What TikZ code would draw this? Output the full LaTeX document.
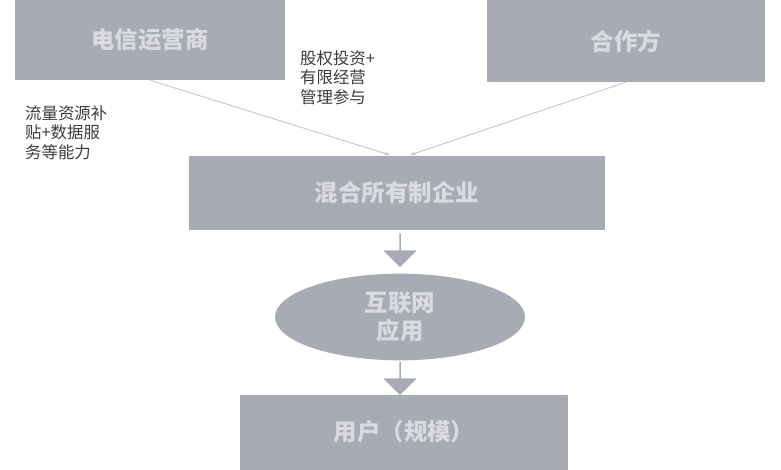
\documentclass[tikz,border=0pt]{standalone}
\usepackage{fontspec}
\setmainfont{Noto Sans CJK SC}
\usetikzlibrary{shapes.arrows,shapes.geometric,arrows.meta}
\definecolor{boxgray}{RGB}{168,170,180}
\definecolor{boxtext}{RGB}{218,219,224}
\definecolor{notetext}{RGB}{60,60,60}
\definecolor{linegray}{RGB}{200,200,205}

\tikzset{
  partbox/.style={rectangle, fill=boxgray, text=boxtext, font=\bfseries\fontsize{20}{22}\selectfont, inner sep=0pt},
  note/.style={text=notetext, font=\fontsize{14}{17}\selectfont, align=left, inner sep=0pt},
  downarrow/.style={single arrow, fill=boxgray, rotate=-90, minimum height=1.0cm, minimum width=1.0cm, single arrow head extend=0.15cm, inner sep=0pt},
  link/.style={linegray, line width=0.8pt, -{Stealth[length=5pt]}}
}

\begin{document}
\begin{tikzpicture}[x=0.03cm, y=-0.03cm]
\useasboundingbox (0,0) rectangle (781,469);

% boxes
\node[partbox, minimum width=8.1cm, minimum height=2.4cm] (telco) at (150,40) {电信运营商};
\node[partbox, minimum width=8.35cm, minimum height=2.45cm] (partner) at (626,41) {合作方};
\node[partbox, minimum width=12.45cm, minimum height=2.2cm] (mixed) at (397,193) {混合所有制企业};
\node[ellipse, fill=boxgray, text=boxtext, font=\bfseries\fontsize{20}{24}\selectfont, align=center,
      minimum width=7.5cm, minimum height=2.6cm, inner sep=0pt] (app) at (400,317) {互联网\\应用};
\node[partbox, minimum width=9.85cm, minimum height=2.25cm] (user) at (404,432) {用户（规模）};

% notes
\node[note, anchor=north west] (invest) at (300,50) {股权投资+\\有限经营\\管理参与};
\node[note, anchor=north west] (subsidy) at (25,105) {流量资源补\\贴+数据服\\务等能力};

% links
\coordinate (hitL) at (390,155);
\coordinate (hitR) at (410,155);
\draw[link] (telco.south) -- (hitL);
\draw[link] (partner.south) -- (hitR);

% block arrows
\node[downarrow] (arrA) at (400,250) {};
\node[downarrow] (arrB) at (400,378) {};
\end{tikzpicture}
\end{document}
